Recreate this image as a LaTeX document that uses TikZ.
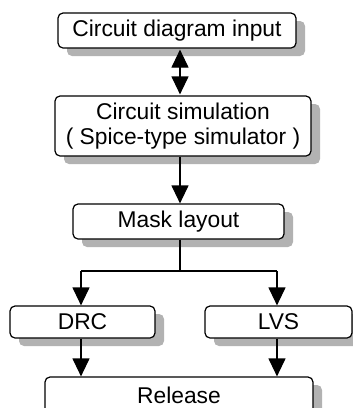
\documentclass[tikz,border=0pt]{standalone}
\usepackage{fontspec}
\setmainfont{Liberation Sans}
\usetikzlibrary{arrows.meta,shadows,calc}

\begin{document}
\begin{tikzpicture}[x=1pt,y=-1pt,
  flowbox/.style={draw=black, line width=1.2pt, rounded corners=5pt, fill=white,
    align=center, inner sep=0pt,
    font=\fontsize{22.8}{25}\selectfont,
    drop shadow={shadow xshift=9pt, shadow yshift=-8pt, fill=black!30, opacity=1}},
  link/.style={line width=1.2pt},
  tip/.tip={Triangle[length=18pt,width=17pt]},
  arr/.style={link, -tip}
]
\clip (0,0) rectangle (353,408);

% process boxes
\node[flowbox, minimum width=238pt, minimum height=35pt] (input) at (177,30.5) {Circuit diagram input};
\node[flowbox, minimum width=256pt, minimum height=60pt] (sim) at (183,126) {Circuit simulation\\( Spice-type simulator )};
\node[flowbox, minimum width=211pt, minimum height=35pt] (mask) at (178.5,221.5) {Mask layout};
\node[flowbox, minimum width=145pt, minimum height=32pt] (drc) at (82.5,322) {DRC};
\node[flowbox, minimum width=147pt, minimum height=32pt] (lvs) at (278.5,322) {LVS};
\node[flowbox, minimum width=268pt, minimum height=36pt] (rel) at (179,395) {Release};

% branch points
\coordinate (j) at (180,271);
\coordinate (jl) at (81,271);
\coordinate (jr) at (277,271);

% connectors
\draw[link, tip-tip] ($(input.south -| j)+(0,1)$) -- ($(sim.north -| j)+(0,-1)$);
\draw[arr] (sim.south -| j) -- (mask.north -| j);
\draw[link] (mask.south -| j) -- (j);
\draw[link] (jl) -- (jr);
\draw[arr] (jl) -- (drc.north -| jl);
\draw[arr] (jr) -- (lvs.north -| jr);
\draw[arr] (drc.south -| jl) -- (rel.north -| jl);
\draw[arr] (lvs.south -| jr) -- (rel.north -| jr);
\end{tikzpicture}
\end{document}
